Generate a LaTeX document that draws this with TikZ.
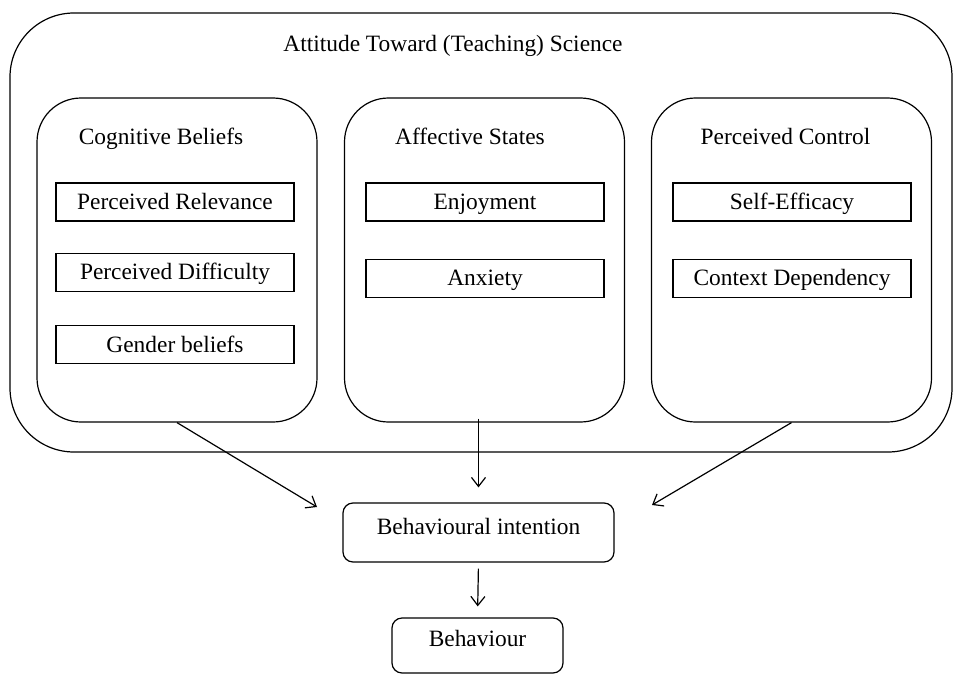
\documentclass[tikz,border=0pt]{standalone}
\usepackage{fontspec}
\setmainfont{Liberation Serif}
\usetikzlibrary{arrows.meta,positioning}

\begin{document}
\begin{tikzpicture}[x=0.5pt, y=-0.5pt, >={Straight Barb[length=4.5pt,width=7pt]},
    line width=0.6pt, font=\fontsize{11.7}{14}\selectfont,
    every node/.style={text height=7.7pt, text depth=0pt},
    frame/.style={draw, rounded corners=32pt, minimum width=471pt, minimum height=219.5pt},
    panel/.style={draw, rounded corners=22pt, minimum width=140pt, minimum height=162pt},
    item/.style={draw, minimum width=119pt, minimum height=19pt, inner sep=0pt},
    heading/.style={inner sep=0pt},
    result/.style={draw, rounded corners=5pt, inner sep=0pt}]
    \useasboundingbox (0,0) rectangle (957,674);

    % Outer frame and title
    \node [frame]           (att)   at (481,232.5)  {};
    \node [heading]         (title) at (453,44)     {Attitude Toward (Teaching) Science};

    % Panels {cog, aff, ctrl}
    \node [panel]           (cog)   at (177,260)    {};
    \node [panel]           (aff)   at (484.5,260)  {};
    \node [panel]           (ctrl)  at (791.5,260)  {};
    \node [heading]         (cogh)  at (161,137)    {Cognitive Beliefs};
    \node [heading]         (affh)  at (470,137)    {Affective States};
    \node [heading]         (ctrlh) at (785.5,137)  {Perceived Control};

    % Items
    \node [item]            (rel)   at (175,202)            {Perceived Relevance};
    \node [item]            (dif)   [below=15.5pt of rel]   {Perceived Difficulty};
    \node [item]            (gen)   [below=16.5pt of dif]   {Gender beliefs};
    \node [item]            (enj)   at (485,202)            {Enjoyment};
    \node [item]            (anx)   [below=18.5pt of enj]   {Anxiety};
    \node [item]            (eff)   at (792,202)            {Self-Efficacy};
    \node [item]            (dep)   [below=18.5pt of eff]   {Context Dependency};

    % Outcomes
    \node [result, text depth=6pt, minimum width=135.5pt, minimum height=29.5pt] (bi)  at (478.5,532.5) {Behavioural intention};
    \node [result, text depth=7pt, minimum width=85.5pt, minimum height=27.5pt]  (beh) at (477.5,645.5) {Behaviour};

    % Free arrow ends
    \coordinate (cogend)  at (317,507);
    \coordinate (ctrlend) at (652,505);

    % Paths
    \path [->]  (cog.south)             edge                                        (cogend);
    \path [->]  (aff.south -| bi.north) edge [shorten <=-2pt, shorten >=7.5pt]      (bi.north);
    \path [->]  (ctrl.south)            edge                                        (ctrlend);
    \path [->]  (bi.south)              edge [shorten <=3pt, shorten >=5.5pt]       (beh.north);

\end{tikzpicture}
\end{document}
